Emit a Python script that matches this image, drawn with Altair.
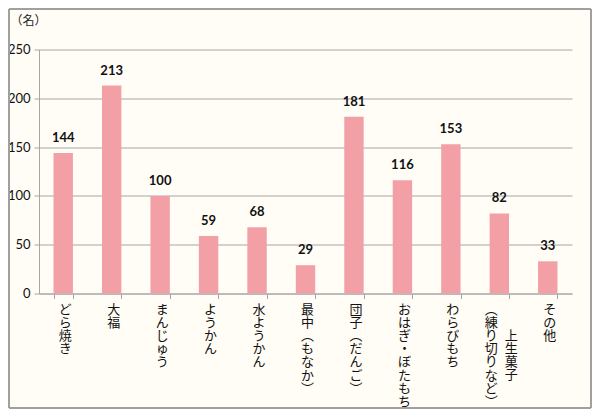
import altair as alt
import pandas as pd

categories = ["どら焼き", "大福", "まんじゅう", "ようかん", "水ようかん", "最中(もなか)",
              "団子(だんご)", "おはぎ・ぼたもち", "わらびもち", "上生菓子(練り切りなど)", "その他"]
values = [144, 213, 100, 59, 68, 29, 181, 116, 153, 82, 33]
label_columns = [["どら焼き"], ["大福"], ["まんじゅう"], ["ようかん"], ["水ようかん"],
                 ["最中(もなか)"], ["団子(だんご)"], ["おはぎ・ぼたもち"], ["わらびもち"],
                 ["上生菓子", "(練り切りなど)"], ["その他"]]
y_ticks = [0, 50, 100, 150, 200, 250]

W, H = 533, 244
LH = 13.2          # vertical line spacing of stacked label characters
LABEL_TOP = 254    # top of x labels, in plot coordinates
COL_GAP = 20       # distance between columns of a two-column label
PAD_INNER = 0.6
STEP = W / len(categories)
HALF_BAR = STEP * (1 - PAD_INNER) / 2

BAR = "#F2A0A5"
GRID = "#A6A6A6"
BG = "#FFFDF6"


def vertical(s):
    s = s.replace("(", "\uFE35").replace(")", "\uFE36")
    return "\n".join(list(s))


bars_df = pd.DataFrame({"cat": categories, "val": values})

rows = []
for cat, cols in zip(categories, label_columns):
    n = len(cols)
    maxlen = max(len(c) for c in cols)
    for j, col in enumerate(cols):
        rows.append({
            "cat": cat,
            "txt": vertical(col),
            "dx": HALF_BAR + 2 + ((n - 1) / 2 - j) * COL_GAP,
            "ypix": LABEL_TOP + (maxlen - len(col)) / 2 * LH,
        })
labels_df = pd.DataFrame(rows)

xscale = alt.Scale(domain=categories, paddingInner=PAD_INNER, paddingOuter=0.3)

bars = alt.Chart(bars_df).mark_bar(color=BAR).encode(
    x=alt.X("cat:N", scale=xscale,
            axis=alt.Axis(labels=False, title=None, tickBand="extent", domainColor=GRID,
                          tickColor=GRID, tickSize=5, grid=False)),
    y=alt.Y("val:Q", scale=alt.Scale(domain=[0, 250], nice=False),
            axis=alt.Axis(values=y_ticks, title="（名）", titleAngle=0, titleX=-11, titleY=-29,
                          titleAlign="center", titleBaseline="middle", titleFontWeight="normal",
                          titleFontSize=12, titleFont="Noto Sans CJK JP", titleColor="#222",
                          labelFont="Lato", labelFontSize=13, labelColor="#111", labelPadding=4,
                          tickSize=5, tickColor=GRID, domainColor=GRID, gridColor=GRID,
                          gridWidth=1)),
)

value_text = alt.Chart(bars_df).mark_text(
    font="Lato", fontWeight="bold", fontSize=13, baseline="middle", dy=-15, color="#111"
).encode(
    x=alt.X("cat:N", scale=xscale),
    y=alt.Y("val:Q"),
    text=alt.Text("val:Q"),
)

cat_text = alt.Chart(labels_df).mark_text(
    font="Noto Sans CJK JP", fontSize=13, baseline="top", align="center",
    lineBreak="\n", lineHeight=LH, color="#111"
).encode(
    x=alt.X("cat:N", scale=xscale),
    xOffset=alt.XOffset("dx:Q", scale=None),
    y=alt.Y("ypix:Q", scale=None),
    text="txt:N",
)

border = alt.Chart(bars_df).mark_rect(
    fill=None, stroke="#A0A0A0", strokeWidth=1.5, cornerRadius=3
).encode(
    x=alt.value(-30.2), x2=alt.value(552.2), y=alt.value(-40.7), y2=alt.value(358.7)
)

chart = alt.layer(bars, value_text, cat_text, border).properties(
    width=W, height=H,
    autosize=alt.AutoSizeParams(type="none"),
    padding={"left": 31, "top": 41.5, "right": 20, "bottom": 115.5},
    background=BG,
).configure_view(stroke=None)

chart.save("out.html", embed_options={"renderer": "svg", "actions": False})
